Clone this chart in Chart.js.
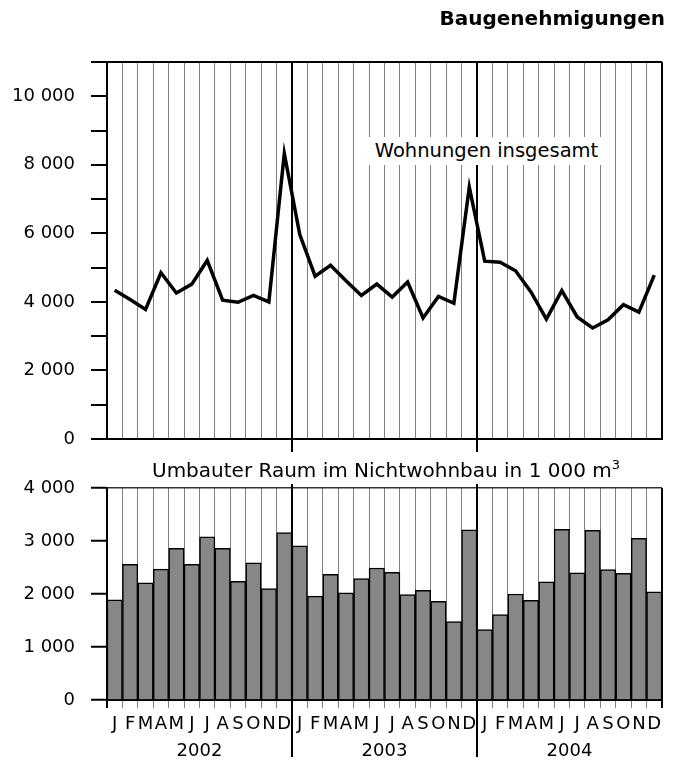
<!DOCTYPE html>
<html>
<head>
<meta charset="utf-8">
<script src="https://cdn.jsdelivr.net/npm/chart.js@4/dist/chart.umd.min.js"></script>
<style>
body { margin: 0; background: #fff; font-family: "DejaVu Sans", sans-serif; color: #000; }
#wrap { position: relative; width: 676px; height: 762px; overflow: hidden; }
#title { position: absolute; right: 11px; top: 8px; font-weight: bold; font-size: 20px; line-height: 20px; }
#lbl1 { position: absolute; left: 368px; top: 137px; width: 237px; height: 28px; background: #fff;
        font-size: 19.5px; line-height: 28px; text-align: center; white-space: nowrap; }
#lbl2 { position: absolute; left: 152px; top: 460px; font-size: 20px; line-height: 20px; white-space: nowrap; }
#lbl2 sup { font-size: 13px; vertical-align: 8px; line-height: 0; }
#c1 { position: absolute; left: 0; top: 0; }
#c2 { position: absolute; left: 0; top: 480px; }
</style>
</head>
<body>
<div id="wrap">
  <canvas id="c1" width="676" height="455"></canvas>
  <canvas id="c2" width="676" height="282"></canvas>
  <div id="title">Baugenehmigungen</div>
  <div id="lbl1">Wohnungen insgesamt</div>
  <div id="lbl2">Umbauter Raum im Nichtwohnbau in 1 000 m<sup>3</sup></div>
</div>
<script>
const months = ['J','F','M','A','M','J','J','A','S','O','N','D'];
const years = ['2002', '2003', '2004'];
const labels = [...months, ...months, ...months];

// Wohnungen insgesamt, Jan 2002 - Dez 2004
const wohnungen = [
  4340, 4070, 3780, 4850, 4260, 4520, 5210, 4050, 3990, 4190, 4000, 8330,
  5970, 4750, 5070, 4620, 4190, 4520, 4140, 4580, 3530, 4160, 3960, 7350,
  5190, 5160, 4910, 4290, 3500, 4330, 3560, 3240, 3480, 3920, 3700, 4780
];
// Umbauter Raum im Nichtwohnbau in 1 000 m3
const umbauterRaum = [
  1890, 2560, 2210, 2470, 2860, 2560, 3080, 2860, 2240, 2590, 2100, 3160,
  2910, 1960, 2370, 2020, 2290, 2490, 2410, 1990, 2070, 1860, 1480, 3210,
  1330, 1610, 2000, 1880, 2230, 3220, 2400, 3200, 2460, 2390, 3050, 2040
];

const fmt = v => v >= 1000 ? Math.floor(v / 1000) + ' ' + String(v % 1000).padStart(3, '0') : String(v);
const isYear = c => c.index === undefined || c.index % 12 === 0;
const gridColor = c => isYear(c) ? '#000' : '#808080';
const gridWidth = c => isYear(c) ? 2 : 1;
const fontY = { family: 'DejaVu Sans', size: 18 };
const fontX = { family: 'DejaVu Sans', size: 18 };

// keep the plot area exactly where the layout padding puts it
const noPad = s => { s.paddingTop = 0; s.paddingBottom = 0; s.paddingLeft = 0; s.paddingRight = 0; };

const yearLines = {
  id: 'yearLines',
  afterDraw(chart, args, opts) {
    const x = chart.scales.x, a = chart.chartArea, ctx = chart.ctx;
    ctx.save();
    ctx.strokeStyle = '#000';
    ctx.lineWidth = 2;
    [12, 24].forEach(i => {
      const px = (x.getPixelForValue(i - 1) + x.getPixelForValue(i)) / 2;
      ctx.beginPath();
      ctx.moveTo(px, a.top - opts.above);
      ctx.lineTo(px, a.bottom + opts.below);
      ctx.stroke();
    });
    ctx.restore();
  }
};

new Chart(document.getElementById('c1'), {
  type: 'line',
  data: {
    labels: labels,
    datasets: [{ data: wohnungen, borderColor: '#000', borderWidth: 3.5, pointRadius: 0, tension: 0, fill: false }]
  },
  options: {
    responsive: false,
    animation: false,
    layout: { padding: { top: 62, right: 14, bottom: 16, left: 0 } },
    plugins: { legend: { display: false }, tooltip: { enabled: false }, yearLines: { above: 0, below: 13 } },
    scales: {
      x: {
        offset: true,
        afterFit: s => { s.height = 0; noPad(s); },
        border: { color: '#000', width: 2 },
        grid: { offset: true, drawTicks: false, color: gridColor, lineWidth: gridWidth },
        ticks: { display: false }
      },
      y: {
        min: 0, max: 11000,
        afterFit: s => { s.width = 107; noPad(s); },
        border: { color: '#000', width: 2 },
        grid: {
          color: c => c.tick && c.tick.value === 11000 ? '#000' : 'rgba(0,0,0,0)',
          lineWidth: 2, tickLength: 16, tickColor: '#000', tickWidth: 2
        },
        ticks: {
          stepSize: 1000, padding: 16, color: '#000', font: fontY,
          callback: v => v % 2000 === 0 && v <= 10000 ? fmt(v) : ''
        }
      }
    }
  },
  plugins: [yearLines]
});

new Chart(document.getElementById('c2'), {
  type: 'bar',
  data: {
    labels: labels,
    datasets: [{
      data: umbauterRaum, backgroundColor: '#878787', borderColor: '#000', borderWidth: 1.5,
      barPercentage: 1, categoryPercentage: 1
    }]
  },
  options: {
    responsive: false,
    animation: false,
    layout: { padding: { top: 8, right: 14, bottom: 0, left: 0 } },
    plugins: { legend: { display: false }, tooltip: { enabled: false }, yearLines: { above: 4, below: 57 } },
    scales: {
      x: {
        offset: true,
        afterFit: s => { s.height = 33; noPad(s); },
        border: { color: '#000', width: 2 },
        grid: { offset: true, color: gridColor, lineWidth: gridWidth, tickLength: 8 },
        ticks: { autoSkip: false, maxRotation: 0, padding: 6, color: '#000', font: fontX }
      },
      x2: {
        type: 'category',
        labels: years,
        offset: true,
        afterFit: s => { s.height = 29; noPad(s); },
        border: { display: false },
        grid: { display: false },
        ticks: { padding: 0, color: '#000', font: fontX }
      },
      y: {
        min: 0, max: 4000,
        afterFit: s => { s.width = 107; noPad(s); },
        border: { color: '#000', width: 2 },
        grid: {
          color: c => c.tick && c.tick.value === 4000 ? '#333' : 'rgba(0,0,0,0)',
          lineWidth: 1.5, tickLength: 16, tickColor: '#000', tickWidth: 2
        },
        ticks: { stepSize: 1000, padding: 16, color: '#000', font: fontY, callback: v => fmt(v) }
      }
    }
  },
  plugins: [yearLines]
});
</script>
</body>
</html>
